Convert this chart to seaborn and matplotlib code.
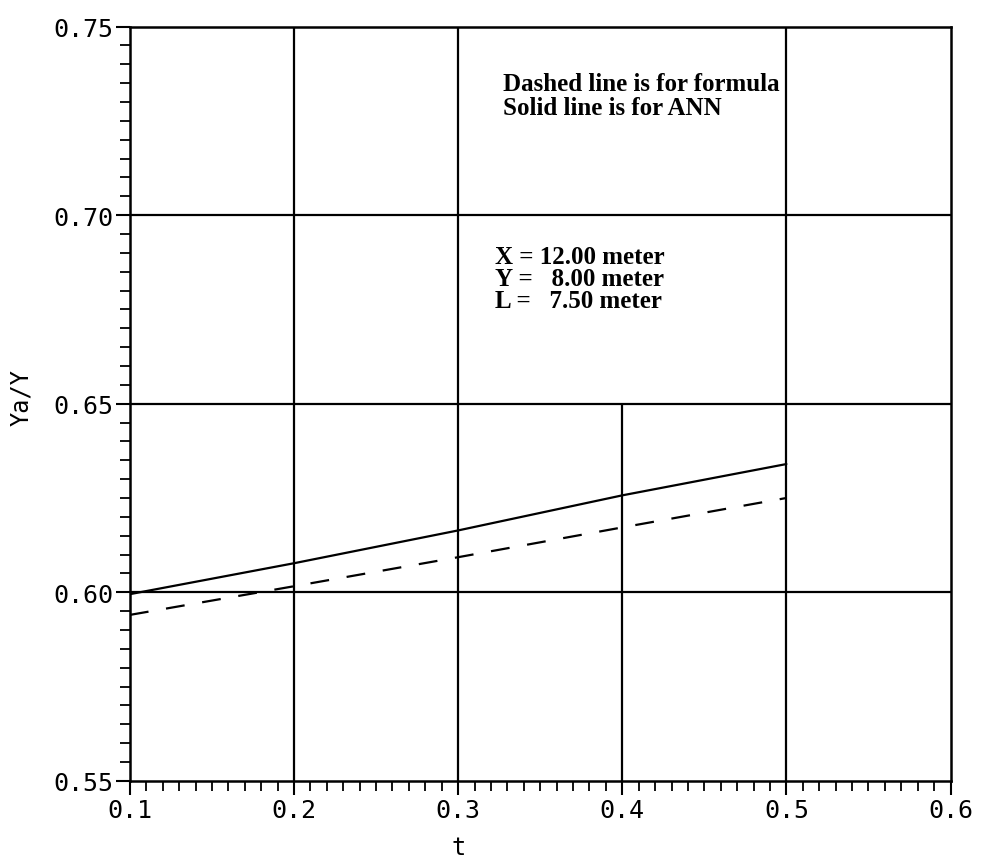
import matplotlib.pyplot as plt
import numpy as np
import pandas as pd
import seaborn as sns

# values
T_VALUES = [0.1, 0.2, 0.3, 0.4, 0.5]
ANN_VALUES = [0.5995, 0.6077, 0.6164, 0.6257, 0.6340]
FORMULA_VALUES = [0.5940, 0.6016, 0.6093, 0.6172, 0.6250]

X_TICKS = [0.1, 0.2, 0.3, 0.4, 0.5, 0.6]
Y_TICKS = [0.55, 0.60, 0.65, 0.70, 0.75]

NOTE_TOP = ["Dashed line is for formula", "Solid line is for ANN"]
NOTE_PARAMS = ["X = 12.00 meter", "Y =   8.00 meter", "L =   7.50 meter"]

TICK_FONT = "DejaVu Sans Mono"
NOTE_FONT = "Liberation Serif"


def build_frame() -> pd.DataFrame:
    ann = pd.DataFrame({"t": T_VALUES, "ratio": ANN_VALUES, "method": "ANN"})
    formula = pd.DataFrame({"t": T_VALUES, "ratio": FORMULA_VALUES, "method": "formula"})
    return pd.concat([ann, formula], ignore_index=True)


def plot_chart(df: pd.DataFrame, output_path: str) -> None:
    sns.set_theme(style="white")
    fig = plt.figure(figsize=(9.84, 8.62), dpi=100)
    ax = fig.add_axes([0.132, 0.093, 0.834, 0.875])

    # grid: the 0.4 line is broken above 0.65 in the original (text area)
    for x in X_TICKS[1:-1]:
        top = 0.65 if x == 0.4 else 0.75
        ax.vlines(x, 0.55, top, color="black", lw=1.6, zorder=1)
    for y in Y_TICKS[1:-1]:
        ax.axhline(y, color="black", lw=1.6, zorder=1)

    sns.lineplot(
        data=df,
        x="t",
        y="ratio",
        style="method",
        dashes={"ANN": "", "formula": (8.5, 8.0)},
        color="black",
        linewidth=1.6,
        legend=False,
        ax=ax,
        zorder=3,
    )

    ax.set_xlim(0.1, 0.6)
    ax.set_ylim(0.55, 0.75)
    ax.set_xticks(X_TICKS)
    ax.set_yticks(Y_TICKS)
    ax.set_xticks(np.arange(0.1, 0.6001, 0.01), minor=True)
    ax.set_yticks(np.arange(0.55, 0.7501, 0.005), minor=True)
    ax.set_xticklabels([f"{v:.1f}" for v in X_TICKS], family=TICK_FONT, fontsize=18, color="black")
    ax.set_yticklabels([f"{v:.2f}" for v in Y_TICKS], family=TICK_FONT, fontsize=18, color="black")
    ax.tick_params(axis="both", which="major", direction="out", length=10, width=1.5,
                   color="black", bottom=True, left=True, pad=2)
    ax.tick_params(axis="both", which="minor", direction="out", length=7, width=1.3,
                   color="black", bottom=True, left=True)
    for side in ax.spines.values():
        side.set_color("black")
        side.set_linewidth(1.8)

    ax.set_xlabel("t", family=TICK_FONT, fontsize=17, color="black")
    ax.xaxis.set_label_coords(0.4, -0.072)
    ax.set_ylabel("Ya/Y", family=TICK_FONT, fontsize=17, color="black")
    ax.yaxis.set_label_coords(-0.118, 0.51)

    for i, line in enumerate(NOTE_TOP):
        ax.text(0.455, 0.924 - i * 0.031, line, transform=ax.transAxes, family=NOTE_FONT,
                fontweight="bold", fontsize=18, va="center", ha="left", color="black")
    for i, line in enumerate(NOTE_PARAMS):
        ax.text(0.445, 0.695 - i * 0.029, line, transform=ax.transAxes, family=NOTE_FONT,
                fontweight="bold", fontsize=18, va="center", ha="left", color="black")

    fig.savefig(output_path, dpi=100)
    plt.close(fig)


if __name__ == "__main__":
    plot_chart(build_frame(), "out.png")
